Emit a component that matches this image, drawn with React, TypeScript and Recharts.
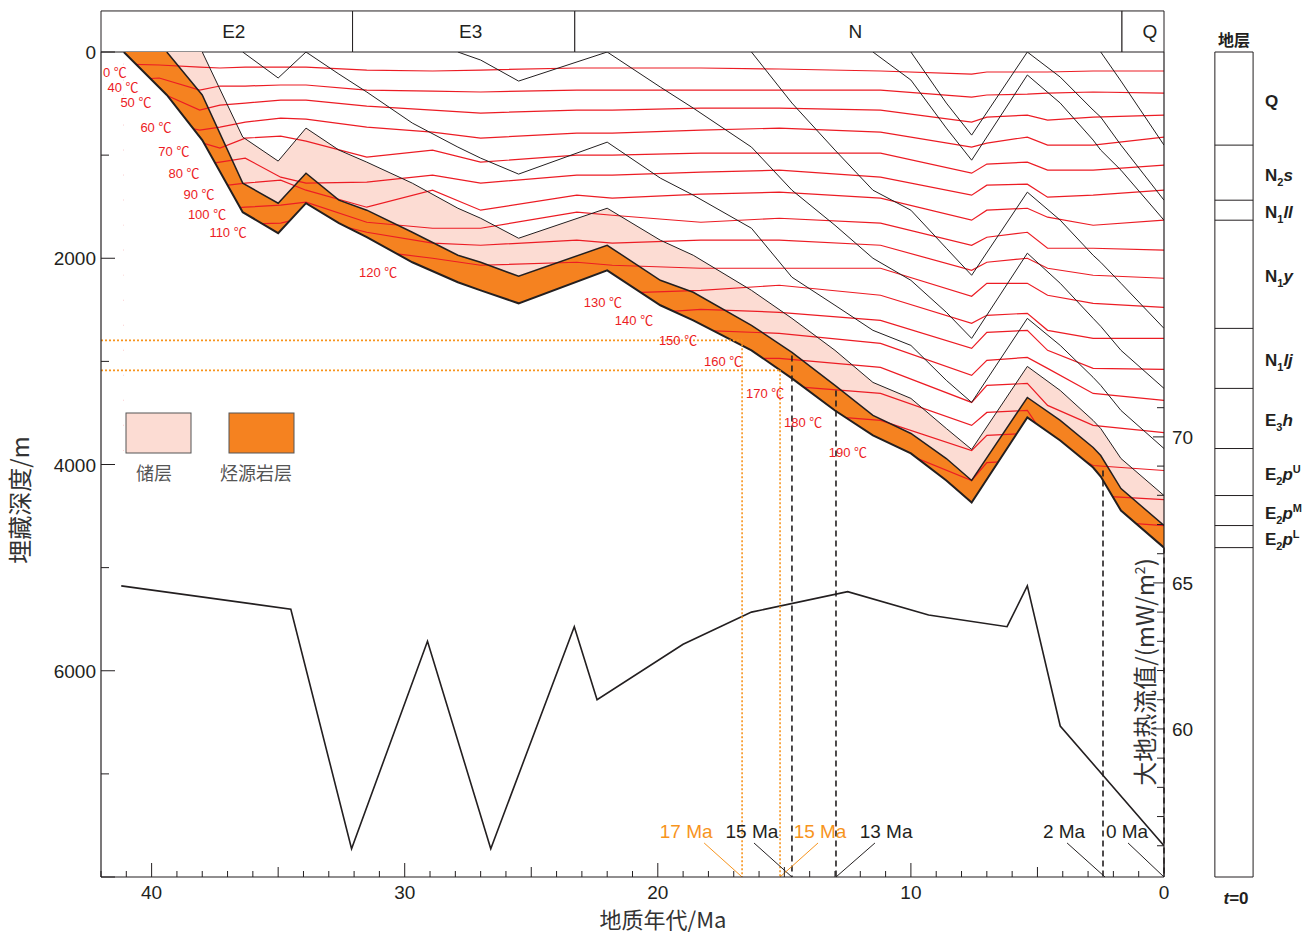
import React from "react";
import {
  Area,
  ComposedChart,
  Line,
  ReferenceArea,
  ReferenceDot,
  ReferenceLine,
  XAxis,
  YAxis,
} from "recharts";

const FONT = '"Liberation Sans", Arial, "Noto Sans CJK SC", sans-serif';
const CJK = '"Noto Sans CJK SC", "Liberation Sans", sans-serif';
const INK = "#231f20";
const RED = "#ec1c24";
const PINK = "#fcdcd3";
const ORANGE = "#f58220";
const DOT_ORANGE = "#f7941d";

// ---- 埋藏史：时间节点 (Ma) 与各层面埋深 (m) ----
const AGES = [41.1, 39.4, 38.0, 36.4, 35.0, 33.9, 32.6, 31.5, 29.7, 27.9, 27.0, 25.5, 22.0, 19.9, 18.6, 16.3, 14.7, 13.0, 11.5, 10.0, 8.6, 7.6, 5.4, 4.1, 2.8, 2.5, 1.7, 0];
const H1 = [0, 417, 854, 1553, 1757, 1466, 1660, 1796, 2039, 2233, 2311, 2437, 2117, 2456, 2602, 2893, 3165, 3476, 3718, 3893, 4155, 4369, 3544, 3767, 4029, 4117, 4447, 4806]; // E2pL 底
const H2 = [null, 0, 417, 1272, 1466, 1175, 1437, 1534, 1748, 1971, 2039, 2175, 1874, 2214, 2330, 2650, 2913, 3233, 3524, 3699, 3942, 4155, 3350, 3573, 3835, 3913, 4233, 4592]; // E2pM 底
const H3 = [null, null, 0, 825, 1058, 738, 951, 1068, 1272, 1515, 1612, 1806, 1515, 1825, 1971, 2311, 2583, 2893, 3204, 3359, 3651, 3854, 3049, 3282, 3573, 3651, 3942, 4301]; // E2pU 底
const H4 = [null, null, null, 0, 252, 0, 214, 388, 689, 922, 1029, 1184, 874, 1223, 1388, 1709, 2184, 2456, 2699, 2845, 3184, 3398, 2583, 2845, 3155, 3233, 3476, 3845]; // E3h 底
const H5 = [null, null, null, null, null, null, null, null, null, 0, 78, 282, 0, 340, 544, 922, 1340, 1680, 2000, 2214, 2524, 2777, 1951, 2243, 2583, 2660, 2893, 3262]; // N1lj 底
const H6 = [null, null, null, null, null, null, null, null, null, null, null, null, null, null, null, 0, 495, 951, 1340, 1534, 1903, 2165, 1359, 1631, 1971, 2039, 2243, 2680]; // N1y 底
const H7 = [null, null, null, null, null, null, null, null, null, null, null, null, null, null, null, null, null, null, 0, 272, 738, 1049, 223, 495, 854, 951, 1146, 1631]; // N1ll 底
const H8 = [null, null, null, null, null, null, null, null, null, null, null, null, null, null, null, null, null, null, null, 0, 495, 806, 0, 243, 563, 631, 903, 1437]; // N2s 底
const H9 = [null, null, null, null, null, null, null, null, null, null, null, null, null, null, null, null, null, null, null, null, null, null, null, null, null, 0, 282, 903]; // Q 底

// ---- 等温线 ----
const ISO_AGES = [41.1, 39.7, 38.1, 37.3, 36.3, 34.9, 33.9, 31.5, 28.9, 27.0, 23.2, 21.8, 18.3, 15.2, 11.2, 7.6, 7.0, 5.4, 4.6, 2.8, 0];
const ISO_TEMPS = [0, 40, 50, 60, 70, 80, 90, 100, 110, 120, 130, 140, 150, 160, 170, 180, 190];
const ISO_0 = [117, 126, 146, 155, 146, 146, 146, 175, 184, 175, 155, 155, 155, 165, 184, 214, 194, 194, 194, 184, 184];
const ISO_40 = [272, 252, 369, 330, 330, 320, 320, 369, 379, 388, 369, 369, 369, 369, 369, 437, 417, 408, 398, 388, 398];
const ISO_50 = [417, 388, 563, 515, 495, 466, 466, 524, 563, 592, 563, 563, 544, 544, 563, 680, 631, 612, 660, 631, 612];
const ISO_60 = [709, 680, 757, 728, 680, 641, 650, 728, 777, 835, 786, 786, 757, 738, 777, 922, 883, 825, 903, 903, 825];
const ISO_70 = [951, 922, 874, 932, 835, 816, 864, 1019, 951, 1068, 1000, 1000, 981, 981, 981, 1175, 1087, 1068, 1146, 1146, 1097];
const ISO_80 = [1194, 1165, 1097, 1068, 1029, 1214, 1272, 1262, 1194, 1272, 1194, 1194, 1165, 1146, 1214, 1388, 1291, 1282, 1408, 1388, 1340];
const ISO_90 = [1437, 1388, 1340, 1301, 1272, 1243, 1340, 1505, 1340, 1534, 1388, 1417, 1379, 1359, 1417, 1631, 1534, 1515, 1602, 1680, 1631];
const ISO_100 = [1680, 1631, 1563, 1524, 1505, 1485, 1456, 1651, 1709, 1709, 1553, 1583, 1651, 1612, 1660, 1874, 1796, 1748, 1903, 1903, 1922];
const ISO_110 = [1922, 1874, 1777, 1709, 1670, 1660, 1602, 1748, 1854, 1874, 1825, 1854, 1825, 1825, 1874, 2117, 2039, 2000, 2097, 2165, 2194];
const ISO_120 = [2165, 2117, 2019, 1971, 1922, 1903, 1825, 1922, 2000, 2068, 2039, 2068, 2097, 2097, 2097, 2369, 2243, 2243, 2359, 2437, 2476];
const ISO_130 = [2408, 2359, 2311, 2262, 2214, 2194, 2117, 2214, 2359, 2456, 2408, 2340, 2311, 2262, 2359, 2631, 2553, 2534, 2699, 2777, 2777];
const ISO_140 = [2651, 2602, 2553, 2505, 2456, 2456, 2408, 2505, 2602, 2699, 2602, 2553, 2495, 2524, 2602, 2874, 2718, 2699, 2893, 3068, 3078];
const ISO_150 = [2893, 2845, 2796, 2748, 2699, 2699, 2651, 2748, 2845, 2942, 2845, 2796, 2699, 2728, 2825, 3136, 2990, 2961, 3068, 3311, 3379];
const ISO_160 = [3136, 3087, 3039, 2990, 2942, 2942, 2893, 2990, 3087, 3184, 3087, 3039, 2971, 2971, 3058, 3398, 3233, 3214, 3427, 3621, 3690];
const ISO_170 = [3379, 3330, 3282, 3233, 3184, 3184, 3136, 3233, 3330, 3427, 3330, 3282, 3233, 3233, 3311, 3621, 3495, 3476, 3767, 4010, 4058];
const ISO_180 = [3621, 3573, 3524, 3476, 3427, 3427, 3379, 3476, 3573, 3670, 3573, 3524, 3476, 3495, 3573, 3864, 3718, 3699, 4010, 4301, 4340];
const ISO_190 = [3864, 3816, 3767, 3718, 3670, 3670, 3621, 3718, 3816, 3913, 3816, 3767, 3718, 3718, 3796, 4155, 3981, 3961, 4252, 4544, 4592];
const ISOTHERMS = [ISO_0, ISO_40, ISO_50, ISO_60, ISO_70, ISO_80, ISO_90, ISO_100, ISO_110, ISO_120, ISO_130, ISO_140, ISO_150, ISO_160, ISO_170, ISO_180, ISO_190];
// 等温线标注位置 (Ma, m)
const ISO_LABEL_AGE = [41.45, 41.13, 40.62, 39.83, 39.12, 38.72, 38.13, 37.81, 36.98, 31.05, 22.17, 20.94, 19.2, 17.42, 15.76, 14.26, 12.49];
const ISO_LABEL_DEPTH = [194, 340, 485, 728, 961, 1175, 1379, 1573, 1748, 2136, 2427, 2602, 2796, 3000, 3311, 3592, 3874];

// ---- 大地热流 ----
const HF_AGES = [41.2, 34.5, 32.1, 29.1, 26.6, 23.3, 22.4, 19.0, 16.3, 12.5, 9.3, 6.2, 5.4, 4.1, 0];
const HF_VALUES = [64.9, 64.1, 55.9, 63.0, 55.9, 63.5, 61.0, 62.9, 64.0, 64.7, 63.9, 63.5, 64.9, 60.1, 56.0];

// ---- 地质年代 ----
const PERIODS = ["E2", "E3", "N", "Q"];
const PERIOD_BOUNDS = [42, 32.06, 23.28, 1.66, 0];

// ---- 地层柱 ----
const STRATA = [
  { base: "Q" },
  { base: "N", sub: "2", it: "s" },
  { base: "N", sub: "1", it: "ll" },
  { base: "N", sub: "1", it: "y" },
  { base: "N", sub: "1", it: "lj" },
  { base: "E", sub: "3", it: "h" },
  { base: "E", sub: "2", it: "p", sup: "U" },
  { base: "E", sub: "2", it: "p", sup: "M" },
  { base: "E", sub: "2", it: "p", sup: "L" },
];
const STRATA_BASES = [H9, H8, H7, H6, H5, H4, H3, H2, H1].map((h) => h[h.length - 1] as number);
const COL_X = [-2.01, -3.52];
const COL_LABEL_AGE = -3.99;

// ---- 关键时刻 ----
const DASH_AGES = [14.7, 12.96, 2.41, 0];
const DASH_FROM = [2942, 3282, 4058, 4806];
const DOT_AGES = [16.67, 15.17];
const DOT_DEPTHS = [2796, 3087];
const MOMENTS = [
  { text: "17 Ma", color: DOT_ORANGE, age: 18.88, from: 18.17, to: 16.67 },
  { text: "15 Ma", color: INK, age: 16.28, from: 16.2, to: 14.7 },
  { text: "15 Ma", color: DOT_ORANGE, age: 13.59, from: 13.67, to: 15.17 },
  { text: "13 Ma", color: INK, age: 10.98, from: 11.42, to: 12.96 },
  { text: "2 Ma", color: INK, age: 3.95, from: 3.83, to: 2.33 },
  { text: "0 Ma", color: INK, age: 1.46, from: 1.42, to: 0 },
];
const MOMENT_LABEL_DEPTH = 7554;
const LEADER_TOP = 7670;

const AGE_TICKS = Array.from({ length: 43 }, (_, i) => i);
const DEPTH_TICKS = [0, 1000, 2000, 3000, 4000, 5000, 6000, 7000, 8000];
const HF_TICKS = [56, 57, 58, 59, 60, 61, 62, 63, 64, 65, 66, 67, 68, 69, 70, 71];
const MASK_DEPTH = 4900;

const hzRows = AGES.map((age, i) => ({
  age,
  h1: H1[i], h2: H2[i], h3: H3[i], h4: H4[i], h5: H5[i], h6: H6[i], h7: H7[i], h8: H8[i], h9: H9[i],
  orange: [H2[i] ?? 0, H1[i]],
  pink: H2[i] == null ? null : [H3[i] ?? 0, H2[i]],
  mask: [H1[i], MASK_DEPTH],
}));

const isoRows = ISO_AGES.map((age, i) => {
  const r: Record<string, number> = { age };
  ISOTHERMS.forEach((s, k) => (r["t" + k] = s[i]));
  return r;
});

const hfRows = HF_AGES.map((age, i) => ({ age, hf: HF_VALUES[i] }));

function AgeTick({ x, y, payload }: any) {
  const v = payload.value;
  const len = v % 10 === 0 ? 14 : v % 5 === 0 ? 10 : 6;
  return (
    <g>
      <line x1={x} y1={y} x2={x} y2={y - len} stroke={INK} strokeWidth={1} />
      {v % 10 === 0 && (
        <text x={x} y={y + 22} textAnchor="middle" fontSize={19} fill={INK} fontFamily={FONT}>{v}</text>
      )}
    </g>
  );
}

function DepthTick({ x, y, payload }: any) {
  const v = payload.value;
  const major = v % 2000 === 0;
  return (
    <g>
      <line x1={x} y1={y} x2={x + (major ? 14 : 8)} y2={y} stroke={INK} strokeWidth={1} />
      {major && v < 8000 && (
        <text x={x - 5} y={y + 7} textAnchor="end" fontSize={19} fill={INK} fontFamily={FONT}>{v}</text>
      )}
    </g>
  );
}

function HfTick({ x, y, payload }: any) {
  const v = payload.value;
  const major = v % 5 === 0;
  return (
    <g>
      <line x1={x} y1={y} x2={x - (major ? 11 : 7)} y2={y} stroke={INK} strokeWidth={1} />
      {major && (
        <text x={x + 8} y={y + 7} textAnchor="start" fontSize={19} fill={INK} fontFamily={FONT}>{v}</text>
      )}
    </g>
  );
}

function StratLabel({ cx, cy, s }: any) {
  return (
    <text x={cx} y={cy + 8} fontSize={17} fontWeight={700} fill={INK} fontFamily={FONT}>
      <tspan>{s.base}</tspan>
      {s.sub && <tspan fontSize={11} dy={5}>{s.sub}</tspan>}
      {s.it && <tspan fontStyle="italic" dy={-5}>{s.it}</tspan>}
      {s.sup && <tspan fontSize={11} dy={-7}>{s.sup}</tspan>}
    </text>
  );
}

export default function App() {
  const colTops = [0, ...STRATA_BASES];
  return (
    <div style={{ position: "absolute", left: 0, top: 0, width: 1311, height: 933, background: "#fff" }}>
      <ComposedChart width={1311} height={933} data={hzRows} margin={{ top: 52, right: 0, bottom: 0, left: 0 }}>
        <XAxis
          dataKey="age"
          type="number"
          domain={[0, 42]}
          reversed
          ticks={AGE_TICKS}
          interval={0}
          height={56}
          tickSize={0}
          tickMargin={0}
          tickLine={false}
          axisLine={{ stroke: INK, strokeWidth: 1.2 }}
          tick={<AgeTick />}
          allowDataOverflow
        />
        <YAxis
          yAxisId="d"
          type="number"
          domain={[0, 8000]}
          reversed
          ticks={DEPTH_TICKS}
          interval={0}
          width={101}
          tickSize={0}
          tickMargin={0}
          tickLine={false}
          axisLine={{ stroke: INK, strokeWidth: 1.2 }}
          tick={<DepthTick />}
          allowDataOverflow
        />
        <YAxis
          yAxisId="hf"
          orientation="right"
          type="number"
          domain={[54.93, 83.18]}
          ticks={HF_TICKS}
          interval={0}
          width={147}
          tickSize={0}
          tickMargin={0}
          tickLine={false}
          axisLine={{ stroke: INK, strokeWidth: 1.2 }}
          tick={<HfTick />}
          allowDataOverflow
        />

        {/* 地质年代条 */}
        {PERIODS.map((p, i) => (
          <ReferenceArea
            key={p}
            yAxisId="d"
            x1={PERIOD_BOUNDS[i]}
            x2={PERIOD_BOUNDS[i + 1]}
            y1={-398}
            y2={0}
            ifOverflow="visible"
            fill="#fff"
            fillOpacity={1}
            stroke={INK}
            strokeWidth={1}
            label={{ value: p, position: "center", fill: INK, fontSize: 19, fontFamily: FONT, dx: 7 }}
          />
        ))}

        <Area yAxisId="d" dataKey="pink" type="linear" stroke="none" fill={PINK} fillOpacity={1} isAnimationActive={false} dot={false} activeDot={false} />
        <Area yAxisId="d" dataKey="orange" type="linear" stroke="none" fill={ORANGE} fillOpacity={1} isAnimationActive={false} dot={false} activeDot={false} />

        {/* 等温线（与遮挡同一图层，按顺序绘制） */}
        {ISOTHERMS.map((_, k) => (
          <Area
            key={"iso" + k}
            yAxisId="d"
            data={isoRows}
            dataKey={"t" + k}
            type="linear"
            stroke={RED}
            strokeWidth={1.2}
            fill="none"
            dot={false}
            activeDot={false}
            isAnimationActive={false}
          />
        ))}

        {/* 基底以下遮挡 */}
        <Area yAxisId="d" dataKey="mask" type="linear" stroke="none" fill="#fff" fillOpacity={1} isAnimationActive={false} dot={false} activeDot={false} />

        {(["h9", "h8", "h7", "h6", "h5", "h4", "h3", "h2", "h1"] as const).map((k) => (
          <Line
            key={k}
            yAxisId="d"
            dataKey={k}
            type="linear"
            stroke={INK}
            strokeWidth={k === "h1" ? 2 : k === "h2" ? 1.5 : 1}
            dot={false}
            activeDot={false}
            isAnimationActive={false}
          />
        ))}

        <Line yAxisId="hf" data={hfRows} dataKey="hf" type="linear" stroke={INK} strokeWidth={1.6} dot={false} activeDot={false} isAnimationActive={false} />

        {/* 橙色点线：储层 17 Ma / 15 Ma */}
        {DOT_AGES.map((a, i) => (
          <ReferenceLine key={"dh" + i} yAxisId="d" segment={[{ x: 42, y: DOT_DEPTHS[i] }, { x: a, y: DOT_DEPTHS[i] }]} stroke={DOT_ORANGE} strokeWidth={1.6} strokeDasharray="2 2" ifOverflow="visible" />
        ))}
        {DOT_AGES.map((a, i) => (
          <ReferenceLine key={"dv" + i} yAxisId="d" segment={[{ x: a, y: DOT_DEPTHS[i] }, { x: a, y: 8000 }]} stroke={DOT_ORANGE} strokeWidth={1.6} strokeDasharray="2 2" ifOverflow="visible" />
        ))}
        {DASH_AGES.map((a, i) => (
          <ReferenceLine key={"bk" + i} yAxisId="d" segment={[{ x: a, y: DASH_FROM[i] }, { x: a, y: 8000 }]} stroke={INK} strokeWidth={1.6} strokeDasharray="6 4" ifOverflow="visible" />
        ))}
        {MOMENTS.map((m, i) => (
          <ReferenceLine key={"ld" + i} yAxisId="d" segment={[{ x: m.from, y: LEADER_TOP }, { x: m.to, y: 8000 }]} stroke={m.color} strokeWidth={1} ifOverflow="visible" />
        ))}
        {MOMENTS.map((m, i) => (
          <ReferenceDot
            key={"ml" + i}
            yAxisId="d"
            x={m.age}
            y={MOMENT_LABEL_DEPTH}
            r={0}
            ifOverflow="visible"
            shape={(p: any) => (
              <text x={p.cx} y={p.cy + 7} textAnchor="middle" fontSize={19} fill={m.color} fontFamily={FONT}>{m.text}</text>
            )}
          />
        ))}

        {ISO_TEMPS.map((t, k) => (
          <ReferenceDot
            key={"il" + k}
            yAxisId="d"
            x={ISO_LABEL_AGE[k]}
            y={ISO_LABEL_DEPTH[k]}
            r={0}
            ifOverflow="visible"
            shape={(p: any) => (
              <text x={p.cx} y={p.cy + 5} textAnchor="middle" fontSize={13} fill={RED} fontFamily={FONT}>{t + " ℃"}</text>
            )}
          />
        ))}

        {/* 地层柱 */}
        <ReferenceArea yAxisId="d" x1={COL_X[0]} x2={COL_X[1]} y1={0} y2={8000} ifOverflow="visible" fill="#fff" fillOpacity={1} stroke={INK} strokeWidth={1} />
        {STRATA_BASES.map((d, i) => (
          <ReferenceLine key={"cb" + i} yAxisId="d" segment={[{ x: COL_X[0], y: d }, { x: COL_X[1], y: d }]} stroke={INK} strokeWidth={1} ifOverflow="visible" />
        ))}
        {STRATA.map((s, i) => (
          <ReferenceDot
            key={"sl" + i}
            yAxisId="d"
            x={COL_LABEL_AGE}
            y={(colTops[i] + STRATA_BASES[i]) / 2}
            r={0}
            ifOverflow="visible"
            shape={(p: any) => <StratLabel cx={p.cx} cy={p.cy} s={s} />}
          />
        ))}
      </ComposedChart>

      <svg width={1311} height={933} style={{ position: "absolute", left: 0, top: 0, pointerEvents: "none" }}>
        <text x={0} y={0} transform="translate(29 500) rotate(-90)" textAnchor="middle" fontSize={24} fill="#333" fontFamily={CJK}>埋藏深度/m</text>
        <text x={663} y={928} textAnchor="middle" fontSize={22} fill="#333" fontFamily={CJK}>地质年代/Ma</text>
        <text x={0} y={0} transform="translate(1154 672) rotate(-90)" textAnchor="middle" fontSize={24} fill="#333" fontFamily={CJK}>
          大地热流值/(mW/m<tspan fontSize={14} dy={-9}>2</tspan><tspan dy={9}>)</tspan>
        </text>
        <text x={1234} y={46} textAnchor="middle" fontSize={16} fontWeight={700} fill={INK} fontFamily={CJK}>地层</text>
        <text x={1236} y={904} textAnchor="middle" fontSize={17} fontWeight={700} fill={INK} fontFamily={FONT}>
          <tspan fontStyle="italic">t</tspan>=0
        </text>
        <rect x={126} y={413} width={65} height={40} fill={PINK} stroke="#555" strokeWidth={1} />
        <rect x={229} y={413} width={65} height={40} fill={ORANGE} stroke="#555" strokeWidth={1} />
        <text x={154} y={480} textAnchor="middle" fontSize={18} fill="#555" fontFamily={CJK}>储层</text>
        <text x={256} y={480} textAnchor="middle" fontSize={18} fill="#555" fontFamily={CJK}>烃源岩层</text>
      </svg>
    </div>
  );
}
